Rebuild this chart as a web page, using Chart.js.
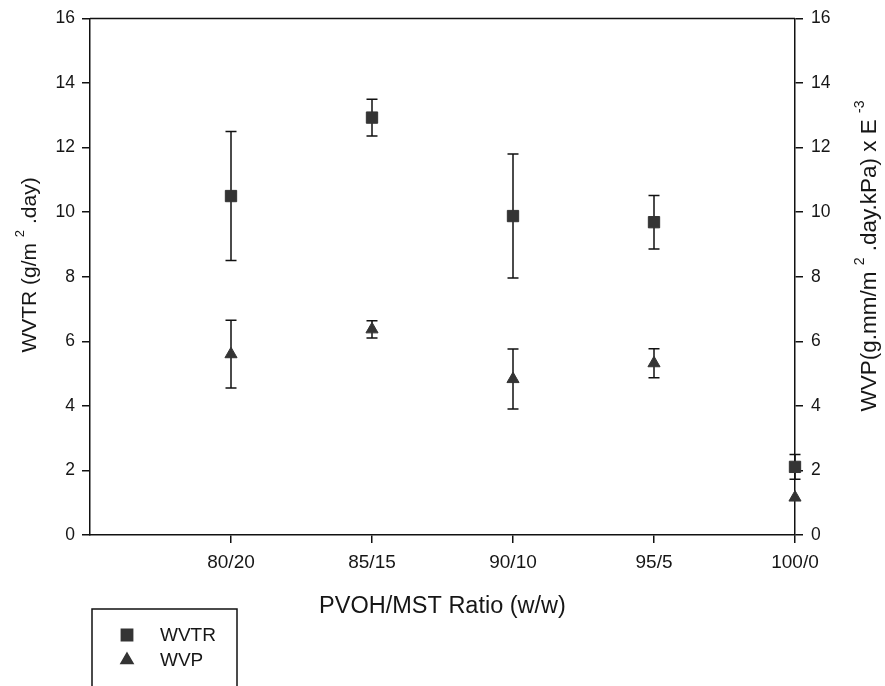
<!DOCTYPE html>
<html><head><meta charset="utf-8">
<script src="https://cdn.jsdelivr.net/npm/chart.js@4/dist/chart.umd.min.js"></script>
<style>html,body{margin:0;padding:0;background:#fff}#wrap{width:885px;height:686px}</style>
</head><body><div id="wrap"><canvas id="c" width="885" height="686"></canvas></div>
<script>
// ---- data ----
const categories = ['80/20', '85/15', '90/10', '95/5', '100/0'];
const wvtrValues = [10.5, 12.93, 9.88, 9.69, 2.11];
const wvtrErrors = [2.0, 0.57, 1.92, 0.83, 0.38];
const wvpValues = [5.6, 6.37, 4.83, 5.32, 1.16];
const wvpErrors = [1.05, 0.27, 0.93, 0.45, 0.0];
const yTickValues = [0, 2, 4, 6, 8, 10, 12, 14, 16];
const leftTitle = [{t: 'WVTR (g/m '}, {t: '2', sup: true}, {t: ' .day)'}];
const rightTitle = [{t: 'WVP(g.mm/m '}, {t: '2', sup: true}, {t: ' .day.kPa) x E '}, {t: '-3', sup: true}];
const xTitle = 'PVOH/MST Ratio (w/w)';

const FONT = '"Liberation Sans", Arial, sans-serif';
const INK = '#161616';
const MARK = '#343434';

function toPoints(vals, errs) {
  return vals.map((v, i) => ({x: i + 1, y: v, err: errs[i]}));
}

function drawRich(ctx, segs, size) {
  const supSize = Math.round(size * 0.62);
  let total = 0;
  const widths = segs.map(s => {
    ctx.font = (s.sup ? supSize : size) + 'px ' + FONT;
    const w = ctx.measureText(s.t).width;
    total += w;
    return w;
  });
  let x = -total / 2;
  segs.forEach((s, i) => {
    ctx.font = (s.sup ? supSize : size) + 'px ' + FONT;
    ctx.fillText(s.t, x, s.sup ? -size * 0.45 : 0);
    x += widths[i];
  });
}

const errorBars = {
  id: 'errorBars',
  beforeDatasetsDraw(chart) {
    const ctx = chart.ctx;
    const xs = chart.scales.x;
    ctx.save();
    ctx.strokeStyle = '#111';
    ctx.lineWidth = 1.5;
    chart.data.datasets.forEach(ds => {
      const ys = chart.scales[ds.yAxisID];
      ds.data.forEach(p => {
        if (!p.err) return;
        const px = xs.getPixelForValue(p.x);
        const top = ys.getPixelForValue(p.y + p.err);
        const bot = ys.getPixelForValue(p.y - p.err);
        ctx.beginPath();
        ctx.moveTo(px, top); ctx.lineTo(px, bot);
        ctx.moveTo(px - 5.5, top); ctx.lineTo(px + 5.5, top);
        ctx.moveTo(px - 5.5, bot); ctx.lineTo(px + 5.5, bot);
        ctx.stroke();
      });
    });
    ctx.restore();
  }
};

const decorations = {
  id: 'decorations',
  afterDraw(chart) {
    const ctx = chart.ctx;
    const a = chart.chartArea;
    ctx.save();
    // top frame line
    ctx.strokeStyle = '#111';
    ctx.lineWidth = 1.5;
    ctx.beginPath();
    ctx.moveTo(a.left, a.top); ctx.lineTo(a.right, a.top);
    ctx.stroke();
    // axis titles
    ctx.fillStyle = INK;
    ctx.textAlign = 'left';
    ctx.textBaseline = 'middle';
    ctx.save();
    ctx.translate(30, 265);
    ctx.rotate(-Math.PI / 2);
    drawRich(ctx, leftTitle, 21);
    ctx.restore();
    ctx.save();
    ctx.translate(870, 256);
    ctx.rotate(-Math.PI / 2);
    drawRich(ctx, rightTitle, 22.5);
    ctx.restore();
    // legend box
    ctx.strokeStyle = '#111';
    ctx.lineWidth = 1.5;
    ctx.strokeRect(92, 609, 145, 120);
    ctx.font = '19px ' + FONT;
    ctx.textAlign = 'left';
    chart.data.datasets.forEach((ds, i) => {
      const y = 635 + i * 25;
      ctx.fillStyle = ds.backgroundColor;
      ctx.strokeStyle = ds.borderColor;
      Chart.helpers.drawPoint(ctx, {pointStyle: ds.pointStyle, radius: ds.pointRadius, rotation: 0, borderWidth: 1}, 127, y);
      ctx.fillStyle = INK;
      ctx.fillText(ds.label, 160, y + 1);
    });
    ctx.restore();
  }
};

const axisCommon = {
  grid: {drawOnChartArea: false, drawTicks: true, tickLength: 8, color: '#111', lineWidth: 1.5},
  border: {color: '#111', width: 1.5}
};

new Chart(document.getElementById('c'), {
  type: 'scatter',
  data: {
    datasets: [
      {label: 'WVTR', data: toPoints(wvtrValues, wvtrErrors), yAxisID: 'y', clip: false,
       pointStyle: 'rect', pointRadius: 8, pointHoverRadius: 8,
       backgroundColor: MARK, borderColor: MARK, borderWidth: 1},
      {label: 'WVP', data: toPoints(wvpValues, wvpErrors), yAxisID: 'y2', clip: false,
       pointStyle: 'triangle', pointRadius: 7, pointHoverRadius: 7,
       backgroundColor: MARK, borderColor: MARK, borderWidth: 1}
    ]
  },
  options: {
    responsive: false,
    animation: false,
    events: [],
    layout: {padding: {top: 16, left: 0, right: 0, bottom: 0}},
    plugins: {legend: {display: false}, tooltip: {enabled: false}},
    scales: {
      x: {
        type: 'linear', position: 'bottom', min: 0, max: categories.length,
        afterBuildTicks: s => { s.ticks = categories.map((c, i) => ({value: i + 1})); },
        afterFit: s => { s.height = 151; },
        ticks: {autoSkip: false, maxRotation: 0, padding: 8, color: INK,
                font: {family: FONT, size: 19},
                callback: v => categories[v - 1] ?? ''},
        title: {display: true, text: xTitle, color: INK, font: {family: FONT, size: 23.5},
                padding: {top: 0, bottom: 65}},
        ...axisCommon
      },
      y: {
        type: 'linear', position: 'left', min: 0, max: 16,
        afterBuildTicks: s => { s.ticks = yTickValues.map(v => ({value: v})); },
        afterFit: s => { s.width = 90; },
        ticks: {padding: 7, color: INK, font: {family: FONT, size: 17.5}},
        ...axisCommon
      },
      y2: {
        type: 'linear', position: 'right', min: 0, max: 16,
        afterBuildTicks: s => { s.ticks = yTickValues.map(v => ({value: v})); },
        afterFit: s => { s.width = 90; },
        ticks: {padding: 8, color: INK, font: {family: FONT, size: 17.5}},
        ...axisCommon
      }
    }
  },
  plugins: [errorBars, decorations]
});
</script>
</body></html>
